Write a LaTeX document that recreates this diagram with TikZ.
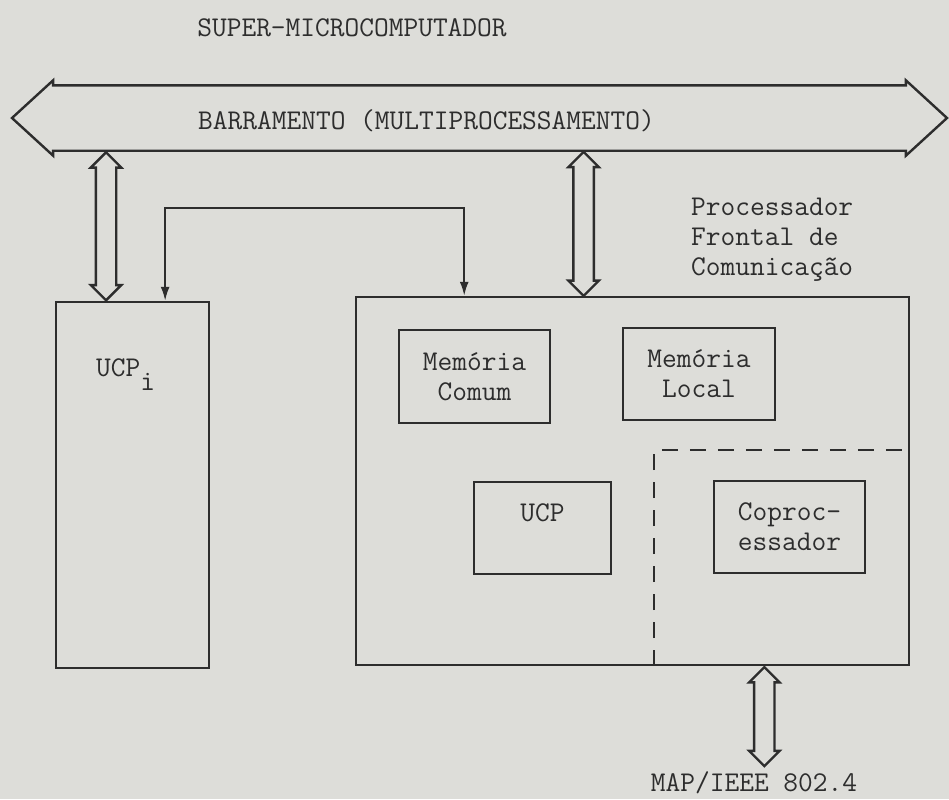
\documentclass[tikz,border=0pt]{standalone}
\usepackage{fontspec}
\usepackage{tikz}
\usetikzlibrary{arrows.meta, positioning, calc, shapes.arrows}
\definecolor{paper}{RGB}{221,221,217}
\definecolor{ink}{RGB}{45,45,45}

\begin{document}
\begin{tikzpicture}[
    x=0.5pt, y=-0.5pt,
    font=\ttfamily\fontsize{14.3}{15}\selectfont,
    ink, line width=1.2pt, inner sep=0pt,
    box/.style={draw, align=center},
    link/.style={{Latex[length=7pt,width=4.5pt]}-{Latex[length=7pt,width=4.5pt]}, line width=1pt},
    hollow/.style={draw, fill=paper, double arrow, rotate=90, inner sep=4.5pt,
                   double arrow head extend=2.5pt, double arrow tip angle=90},
    zone/.style={dash pattern=on 8pt off 6pt}
]
\useasboundingbox[fill=paper] (0,0) rectangle (949,799);

% Title
\node (title) at (352,28) {SUPER-MICROCOMPUTADOR};

% Bus
\node[draw, fill=paper, double arrow, double arrow head extend=2.5pt, double arrow tip angle=85,
      inner ysep=15.75pt, minimum height=467.5pt] (bus) at (479.5,118) {};
\node[anchor=west] (buslbl) at (197,121) {BARRAMENTO (MULTIPROCESSAMENTO)};

% UCP_i
\node[box, minimum width=76.5pt, minimum height=183pt] (ucpi) at (132.5,485) {};
\node[anchor=base west] (ucpilbl) at (95,376) {UCP\raisebox{-7pt}{i}};

% Processador frontal
\node[box, minimum width=276.5pt, minimum height=184pt] (fep) at (632.5,481) {};
\node[anchor=west, align=left] (feplbl) at (690,239.5) {Processador\\Frontal de\\Comunicação};

\node[box, minimum width=75.5pt, minimum height=46.5pt] (memc) at (474.5,376.5) {Memória\\Comum};
\node[box, minimum width=76pt, minimum height=46pt] (meml) at (699,374) {Memória\\Local};
\node[box, minimum width=68.5pt, minimum height=46pt] (ucp) at (542.5,528) {UCP\\\mbox{}};
\node[box, minimum width=75.5pt, minimum height=46pt] (coproc) at (789.5,527) {Coproc-\\essador};

% Coprocessor zone
\coordinate (zc) at (654,450);
\draw[zone] (fep.south -| zc) -- (zc) -- (zc -| fep.east);

% Bus connections
\coordinate (busL) at ($(ucpi.north west)!0.33!(ucpi.north east)$);
\coordinate (busR) at ($(fep.north west)!0.412!(fep.north east)$);
\node[hollow, minimum height=74pt] (upL) at ($(busL |- bus.south)!0.5!(busL)$) {};
\node[hollow, minimum height=72pt] (upR) at ($(busR |- bus.south)!0.5!(busR)$) {};

% Local link
\coordinate (la) at ($(ucpi.north west)!0.71!(ucpi.north east)$);
\coordinate (lb) at ($(fep.north west)!0.197!(fep.north east)$);
\coordinate (ltop) at (0,208);
\draw[link] (la) -- (la |- ltop) -- (lb |- ltop) -- (lb);

% Network
\coordinate (lanR) at ($(fep.south west)!0.738!(fep.south east)$);
\coordinate (lan) at (764,767);
\node[hollow, minimum height=49.5pt] (down) at ($(lanR)!0.5!(lan)$) {};
\node (maplbl) at (754,783) {MAP/IEEE 802.4};

\end{tikzpicture}
\end{document}
